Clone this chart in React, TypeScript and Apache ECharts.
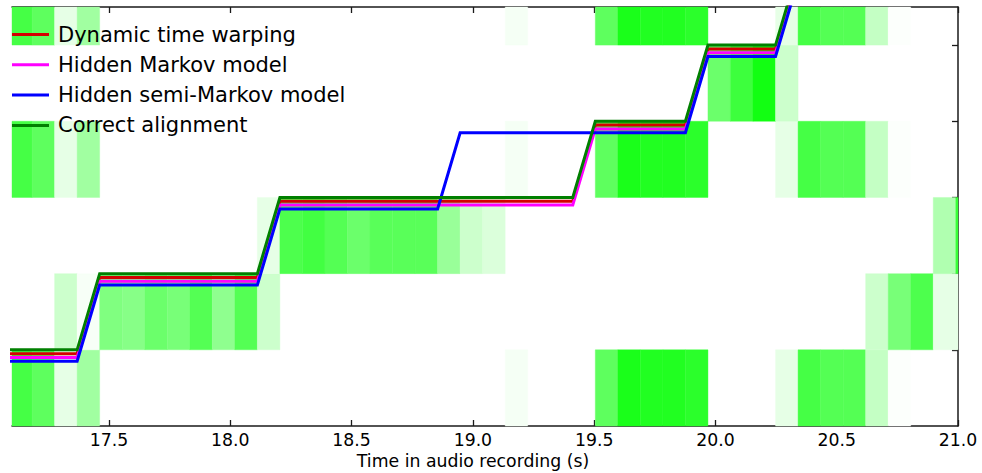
import React, { useEffect, useRef } from "react";
import * as echarts from "echarts";

// Analysis frames: hop of 2048 samples at 22.05 kHz
const HOP = 2048 / 22050;
const FIRST_FRAME = 184;

// Note-template match strength per frame (frames 184..226), one array per score row.
// Rows 0, 3 and 5 are the same pitch, so they share one profile.
const pitchA = [
  0.73, 0.63, 0.1, 0.37,
  0, 0, 0, 0, 0, 0, 0, 0, 0, 0, 0, 0, 0, 0, 0, 0, 0, 0,
  0.04, 0, 0, 0,
  0.63, 0.9, 0.87, 0.87, 0.83,
  0, 0, 0,
  0.1, 0.73, 0.67, 0.67, 0.23, 0.01,
  0, 0, 0,
];
const pitchB = [
  0, 0,
  0.2, 0.03, 0.5, 0.47, 0.58, 0.53, 0.67, 0.44, 0.67, 0.2,
  0, 0, 0, 0, 0, 0, 0, 0, 0, 0, 0, 0, 0, 0, 0, 0, 0, 0, 0, 0, 0, 0, 0, 0, 0, 0,
  0.2, 0.53, 0.7, 0.1, 0.1,
];
const pitchC = [
  0, 0, 0, 0, 0, 0, 0, 0, 0, 0, 0,
  0.1, 0.7, 0.74, 0.67, 0.58, 0.65, 0.65, 0.65, 0.4, 0.2, 0.14,
  0, 0, 0, 0, 0, 0, 0, 0, 0, 0, 0, 0, 0, 0, 0, 0, 0, 0, 0,
  0.31, 0.78,
];
const pitchD = [
  0, 0, 0, 0, 0, 0, 0, 0, 0, 0, 0, 0, 0, 0, 0, 0, 0, 0, 0, 0, 0, 0, 0, 0, 0, 0, 0, 0, 0, 0, 0,
  0.58, 0.76, 0.93, 0.2,
  0, 0, 0, 0, 0, 0, 0, 0,
];
const scoreRows = [pitchA, pitchB, pitchC, pitchA, pitchD, pitchA];

// Aligned score position for each frame (frames 184..219)
const dtwPath = [
  1, 1, 1, 1,
  2, 2, 2, 2, 2, 2, 2, 2,
  3, 3, 3, 3, 3, 3, 3, 3, 3, 3, 3, 3, 3, 3,
  4, 4, 4, 4, 4,
  5, 5, 5, 5,
  6,
];
const hmmPath = [
  1, 1, 1, 1,
  2, 2, 2, 2, 2, 2, 2, 2,
  3, 3, 3, 3, 3, 3, 3, 3, 3, 3, 3, 3, 3, 3,
  4, 4, 4, 4, 4,
  5, 5, 5, 5,
  6,
];
const hsmmPath = [
  1, 1, 1, 1,
  2, 2, 2, 2, 2, 2, 2, 2,
  3, 3, 3, 3, 3, 3, 3, 3,
  4, 4, 4, 4, 4, 4, 4, 4, 4, 4, 4,
  5, 5, 5, 5,
  6,
];
const correctPath = [
  1, 1, 1, 1,
  2, 2, 2, 2, 2, 2, 2, 2,
  3, 3, 3, 3, 3, 3, 3, 3, 3, 3, 3, 3, 3, 3,
  4, 4, 4, 4, 4,
  5, 5, 5, 5,
  6,
];

const timeTicks = [17.5, 18.0, 18.5, 19.0, 19.5, 20.0, 20.5, 21.0];
const rowTicks = [1, 2, 3, 4, 5];

const FONT = "DejaVu Sans";

export default function App() {
  const ref = useRef<HTMLDivElement>(null);

  useEffect(() => {
    const chart = echarts.init(ref.current!, null, { renderer: "svg" });

    const cells: number[][] = [];
    scoreRows.forEach((row, r) => {
      row.forEach((v, i) => {
        if (v > 0) cells.push([(FIRST_FRAME + i) * HOP, r, v]);
      });
    });

    // small vertical stagger keeps the overlapping paths distinguishable
    const pathSeries = (
      name: string,
      path: number[],
      stagger: number,
      color: string
    ) => ({
      name,
      type: "line",
      data: path.map((n, i) => [(FIRST_FRAME + i) * HOP, n - stagger]),
      symbol: "none",
      clip: true,
      itemStyle: { color },
      lineStyle: { color, width: 3, cap: "butt", join: "miter" },
      emphasis: { disabled: true },
    });

    const spine = { show: true, onZero: false, lineStyle: { color: "#1a1a1a", width: 1.5 } };
    const tick = { inside: true, length: 6, lineStyle: { color: "#1a1a1a", width: 1.3 } };

    chart.setOption({
      animation: false,
      backgroundColor: "#ffffff",
      grid: { left: 12, top: 7, right: 24, bottom: 47, outerBoundsMode: "none" },
      legend: {
        orient: "vertical",
        left: 12,
        top: 24,
        padding: 0,
        itemGap: 9.3,
        itemWidth: 37,
        itemHeight: 3,
        icon: "rect",
        selectedMode: false,
        data: [
          "Dynamic time warping",
          "Hidden Markov model",
          "Hidden semi-Markov model",
          "Correct alignment",
        ],
        textStyle: {
          fontFamily: FONT,
          fontSize: 21,
          lineHeight: 21,
          color: "#000",
          padding: [0, 0, 0, 4],
        },
      },
      visualMap: {
        type: "continuous",
        show: false,
        seriesIndex: 0,
        dimension: 2,
        min: 0,
        max: 1,
        inRange: { color: ["#ffffff", "#00ff00"] },
      },
      xAxis: [
        {
          type: "value",
          position: "bottom",
          min: 17.1,
          max: 21.0,
          axisLine: spine,
          axisTick: { ...tick, customValues: timeTicks },
          axisLabel: {
            customValues: timeTicks,
            formatter: (v: number) => v.toFixed(1),
            fontFamily: FONT,
            fontSize: 17.3,
            color: "#000",
            margin: 5,
          },
          splitLine: { show: false },
          name: "Time in audio recording (s)",
          nameLocation: "middle",
          nameGap: 24,
          nameTextStyle: { fontFamily: FONT, fontSize: 17.3, color: "#000", padding: [0, 24, 0, 0] },
        },
        {
          type: "value",
          position: "top",
          min: 17.1,
          max: 21.0,
          axisLine: spine,
          axisTick: { ...tick, customValues: timeTicks },
          axisLabel: { show: false },
          splitLine: { show: false },
        },
      ],
      yAxis: [
        {
          type: "value",
          position: "right",
          min: 0,
          max: 5.5,
          axisLine: spine,
          axisTick: { ...tick, customValues: rowTicks },
          axisLabel: { show: false },
          splitLine: { show: false },
        },
      ],
      series: [
        {
          type: "custom",
          name: "score",
          data: cells,
          encode: { x: 0, y: 1 },
          renderItem: (params: any, api: any) => {
            const t0 = api.value(0);
            const r = api.value(1);
            const a = api.coord([t0, r + 1]);
            const b = api.coord([t0 + HOP, r]);
            const cs = params.coordSys;
            const shape = echarts.graphic.clipRectByRect(
              { x: a[0], y: a[1], width: b[0] - a[0], height: b[1] - a[1] },
              { x: cs.x, y: cs.y, width: cs.width, height: cs.height }
            );
            if (!shape) return null;
            const fill = api.visual("color");
            return {
              type: "rect",
              shape,
              style: { fill, stroke: fill, lineWidth: 0.4 },
            };
          },
          z: 1,
          silent: true,
        },
        pathSeries("Dynamic time warping", dtwPath, 0.05, "#d40000"),
        pathSeries("Hidden Markov model", hmmPath, 0.1, "#ff00ff"),
        pathSeries("Hidden semi-Markov model", hsmmPath, 0.15, "#0000ff"),
        pathSeries("Correct alignment", correctPath, 0, "#008000"),
      ],
    });

    return () => chart.dispose();
  }, []);

  return (
    <div
      ref={ref}
      style={{ position: "fixed", left: 0, top: 0, width: 982, height: 473, background: "#fff" }}
    />
  );
}
